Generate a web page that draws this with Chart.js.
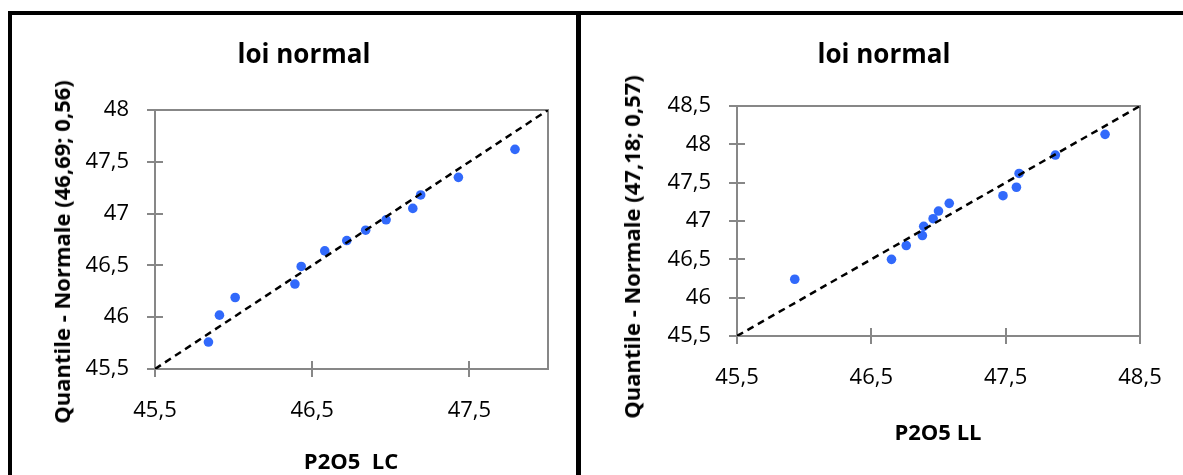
<!DOCTYPE html>
<html>
<head>
<meta charset="utf-8">
<title>loi normal</title>
<script src="https://cdn.jsdelivr.net/npm/chart.js@4.4.1/dist/chart.umd.min.js"></script>
<style>
  body { margin: 0; width: 1183px; height: 475px; overflow: hidden; background: #fff; position: relative; font-family: 'Open Sans', sans-serif; }
  .panel { position: absolute; box-sizing: border-box; }
  #panel_lc { left: 8px; top: 11px; width: 573px; height: 520px; border: 4px solid #000; border-right-width: 5px; }
  #panel_ll { left: 581px; top: 11px; width: 620px; height: 520px; border-top: 4px solid #000; }
  canvas { position: absolute; }
  .txt { position: absolute; transform: translate(-50%, -50%); white-space: nowrap; font-weight: bold; color: #000; line-height: 1; }
  .title { font-size: 26px; }
  .axis_title { font-size: 22px; }
  .rot { transform: translate(-50%, -50%) rotate(-90deg); }
</style>
</head>
<body>
<div class="panel" id="panel_lc"></div>
<div class="panel" id="panel_ll"></div>

<canvas id="chart_lc" width="564" height="460" style="left:12px; top:15px; width:564px; height:460px"></canvas>
<canvas id="chart_ll" width="602" height="460" style="left:581px; top:15px; width:602px; height:460px"></canvas>

<div class="txt title" style="left:304px; top:53px">loi normal</div>
<div class="txt axis_title rot" style="left:61px; top:252px">Quantile - Normale (46,69; 0,56)</div>
<div class="txt axis_title" style="left:351px; top:460px">P2O5&nbsp; LC</div>

<div class="txt title" style="left:884px; top:53px">loi normal</div>
<div class="txt axis_title rot" style="left:631px; top:247px">Quantile - Normale (47,18; 0,57)</div>
<div class="txt axis_title" style="left:938px; top:431px">P2O5 LL</div>

<script>
// P2O5 LC : observed values vs normal quantiles
const lc_x = [45.84, 45.91, 46.01, 46.39, 46.43, 46.58, 46.72, 46.84, 46.97, 47.14, 47.19, 47.43, 47.79];
const lc_y = [45.76, 46.02, 46.19, 46.32, 46.49, 46.64, 46.74, 46.84, 46.94, 47.05, 47.18, 47.35, 47.62];
const lc_line = [45.5, 48];
const lc_x_ticks = [45.5, 46.5, 47.5];
const lc_y_ticks = [45.5, 46, 46.5, 47, 47.5, 48];

// P2O5 LL
const ll_x = [45.93, 46.65, 46.76, 46.88, 46.89, 46.96, 47.00, 47.08, 47.48, 47.58, 47.60, 47.87, 48.24];
const ll_y = [46.24, 46.50, 46.68, 46.81, 46.93, 47.03, 47.13, 47.23, 47.33, 47.44, 47.62, 47.86, 48.13];
const ll_line = [45.5, 48.5];
const ll_x_ticks = [45.5, 46.5, 47.5, 48.5];
const ll_y_ticks = [45.5, 46, 46.5, 47, 47.5, 48, 48.5];

const AXIS_COLOR = '#878787';
const POINT_COLOR = '#3169fb';

Chart.defaults.font.family = "'Open Sans', sans-serif";

// frame around plot area + the inner half of the crossing tick marks
const frame_plugin = {
    id: 'frame',
    beforeDatasetsDraw(chart) {
        const { ctx, chartArea: a, scales } = chart;
        ctx.save();
        ctx.strokeStyle = AXIS_COLOR;
        ctx.lineWidth = 2;
        ctx.strokeRect(a.left, a.top, a.right - a.left, a.bottom - a.top);
        ctx.beginPath();
        scales.x.ticks.forEach(t => {
            const px = Math.round(scales.x.getPixelForValue(t.value));
            ctx.moveTo(px, a.bottom);
            ctx.lineTo(px, a.bottom - 8);
        });
        scales.y.ticks.forEach(t => {
            const py = Math.round(scales.y.getPixelForValue(t.value));
            ctx.moveTo(a.left, py);
            ctx.lineTo(a.left + 8, py);
        });
        ctx.stroke();
        ctx.restore();
    }
};

const fmt = v => String(v).replace('.', ',');

function draw_qq(canvas_id, xs, ys, line, x_ticks, y_ticks, box) {
    const ctx = document.getElementById(canvas_id);
    const axis = (ticks, fit) => ({
        type: 'linear',
        min: line[0],
        max: line[line.length - 1],
        afterBuildTicks: s => { s.ticks = ticks.map(v => ({ value: v })); },
        afterFit: fit,
        ticks: { autoSkip: false, maxRotation: 0, color: '#000', font: { size: 22 }, callback: fmt },
        grid: { drawOnChartArea: false, drawTicks: true, tickLength: 8, color: AXIS_COLOR, lineWidth: 2 },
        border: { display: false }
    });
    const x_axis = axis(x_ticks, s => { s.height = box.xh; });
    x_axis.ticks.padding = 21;
    const y_axis = axis(y_ticks, s => { s.width = box.yw; });
    y_axis.ticks.padding = 18;

    new Chart(ctx, {
        data: {
            datasets: [
                {
                    type: 'scatter',
                    data: xs.map((x, i) => ({ x: x, y: ys[i] })),
                    backgroundColor: POINT_COLOR,
                    borderWidth: 0,
                    pointRadius: 4.8,
                    order: 1
                },
                {
                    type: 'line',
                    data: line.map(v => ({ x: v, y: v })),
                    borderColor: '#000',
                    borderWidth: 2.5,
                    borderDash: [7, 5],
                    pointRadius: 0,
                    fill: false,
                    order: 0
                }
            ]
        },
        options: {
            responsive: false,
            animation: false,
            layout: { padding: { left: 0, top: box.top, right: box.right, bottom: 0 } },
            plugins: { legend: { display: false }, tooltip: { enabled: false } },
            scales: { x: x_axis, y: y_axis }
        },
        plugins: [frame_plugin]
    });
}

draw_qq('chart_lc', lc_x, lc_y, lc_line, lc_x_ticks, lc_y_ticks, { yw: 143, xh: 106, top: 95, right: 28 });
draw_qq('chart_ll', ll_x, ll_y, ll_line, ll_x_ticks, ll_y_ticks, { yw: 156, xh: 139, top: 91, right: 43 });
</script>
</body>
</html>
